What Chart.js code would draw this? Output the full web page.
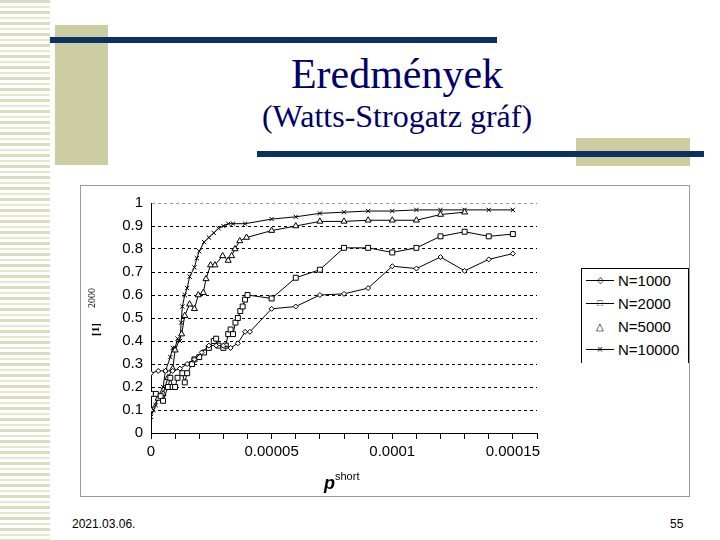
<!doctype html>
<html>
<head>
<meta charset="utf-8">
<script src="https://cdn.jsdelivr.net/npm/chart.js@4"></script>
<style>
  body { margin: 0; width: 720px; height: 540px; background: #fff; position: relative; overflow: hidden; font-family: "Liberation Sans", Arial, sans-serif; }
  .abs { position: absolute; }
  .stripes { left: 0; top: 0; width: 50px; height: 540px; background: repeating-linear-gradient(to bottom, #dcdcc0 0 3px, #fff 3px 6px, #e6e6d2 6px 8px, #fff 8px 11px); }
  .beige { background: #cdcda3; }
  .navy { background: #0b3160; }
  .title { font-family: "Liberation Serif", "Times New Roman", serif; color: #000066; text-align: center; width: 720px; left: 37px; }
  #frame { left: 80px; top: 185px; width: 610px; height: 312px; border: 1px solid #9a9a9a; box-sizing: border-box; }
  #legend { left: 581px; top: 268px; width: 106px; height: 94px; border: 1px solid #000; border-bottom: none; background: #fff; font-size: 15px; color: #000; }
  #legend div { height: 23px; line-height: 23px; position: relative; padding-left: 36px; }
  #legend span { position: absolute; left: 5px; width: 26px; text-align: center; font-size: 10px; }
  #legend i { position: absolute; left: 4px; top: 11px; width: 28px; height: 1px; background: #000; }
</style>
</head>
<body>
<div class="abs stripes"></div>
<div class="abs beige" style="left:55px;top:25px;width:53px;height:140px"></div>
<div class="abs navy" style="left:50px;top:37px;width:447px;height:6px"></div>
<div class="abs beige" style="left:576px;top:138px;width:114px;height:28px"></div>
<div class="abs navy" style="left:257px;top:151px;width:447px;height:6px"></div>
<div class="abs title" style="top:50px;font-size:42px;left:37px">Eredmények</div>
<div class="abs title" style="top:98px;font-size:32px">(Watts-Strogatz gráf)</div>
<div id="frame" class="abs">
  <canvas id="c" width="608" height="310" style="width:608px;height:310px"></canvas>
</div>
<div class="abs" style="left:86px;top:290px;font-family:'Liberation Serif',serif;font-size:10px;transform:rotate(-90deg);transform-origin:left top;top:308px">2000</div>
<div class="abs" style="left:89px;top:336px;font-family:'Liberation Serif',serif;font-size:11px;font-weight:bold;transform:rotate(-90deg);transform-origin:left top">[1]</div>
<div class="abs" style="left:324px;top:470px;font-size:18px;font-weight:bold;font-style:italic">p<sup style="font-size:11px;font-weight:normal;font-style:normal;vertical-align:9px">short</sup></div>
<div id="legend" class="abs">
  <div><i></i><span style="font-size:9px;top:0">◇</span>N=1000</div>
  <div><i></i><span style="font-size:9px;top:0;background:transparent">□</span>N=2000</div>
  <div><span>△</span>N=5000</div>
  <div><i></i><span>×</span>N=10000</div>
</div>
<div class="abs" style="left:72px;top:517px;font-size:12px">2021.03.06.</div>
<div class="abs" style="left:670px;top:517px;font-size:12px">55</div>
<script>
// x values in units of 1e-5
const xN1000 = [0,0.3,0.6,0.9,1.2,1.5,1.8,2.1,2.4,2.7,3.0,3.3,3.6,3.9,4.1,5,6,7,8,9,10,11,12,13,14,15];
const yN1000 = [0.26,0.27,0.27,0.27,0.28,0.30,0.32,0.35,0.38,0.38,0.38,0.37,0.39,0.44,0.44,0.54,0.55,0.60,0.605,0.63,0.725,0.715,0.765,0.705,0.755,0.78];
const xN2000 = [0,0.2,0.4,0.5,0.7,0.8,0.9,1.0,1.1,1.3,1.4,1.5,1.7,1.8,2.0,2.2,2.4,2.6,2.7,2.8,3.0,3.1,3.2,3.3,3.4,3.5,3.6,3.7,3.8,3.9,4.0,5,6,7,8,9,10,11,12,13,14,15];
const yN2000 = [0.17,0.17,0.16,0.14,0.20,0.24,0.20,0.20,0.24,0.26,0.22,0.26,0.30,0.32,0.33,0.35,0.37,0.40,0.41,0.38,0.37,0.38,0.43,0.45,0.43,0.48,0.50,0.53,0.55,0.58,0.60,0.585,0.675,0.71,0.805,0.805,0.785,0.805,0.855,0.875,0.855,0.865];
const xN5000 = [0,0.3,0.5,0.7,0.9,1.0,1.27,1.4,1.6,1.8,1.96,2.17,2.28,2.47,2.65,2.97,3.2,3.34,3.48,3.68,3.96,5,6,7,8,9,10,11,12,13];
const yN5000 = [0.10,0.15,0.17,0.24,0.28,0.36,0.43,0.51,0.56,0.54,0.60,0.61,0.67,0.73,0.73,0.77,0.75,0.77,0.80,0.835,0.85,0.88,0.90,0.92,0.92,0.925,0.925,0.925,0.95,0.96];
const xN10000 = [0,0.1,0.2,0.3,0.5,0.6,0.8,0.9,1.0,1.1,1.2,1.25,1.3,1.4,1.5,1.6,1.8,1.9,2.0,2.2,2.4,2.6,2.8,3.0,3.2,3.4,3.9,5,6,7,8,9,10,11,12,13,14,15];
const yN10000 = [0.07,0.10,0.12,0.16,0.20,0.27,0.33,0.37,0.37,0.41,0.40,0.48,0.55,0.60,0.63,0.68,0.72,0.76,0.79,0.83,0.85,0.87,0.89,0.90,0.91,0.91,0.91,0.93,0.94,0.955,0.96,0.965,0.965,0.97,0.97,0.97,0.97,0.97];
const yTicks = [0,0.1,0.2,0.3,0.4,0.5,0.6,0.7,0.8,0.9,1];
const xLabels = { 0: "0", 5: "0.00005", 10: "0.0001", 15: "0.00015" };

const pts = (xs, ys) => xs.map((x, i) => ({ x: x, y: ys[i] }));
const common = { borderColor: "#000", borderWidth: 1, pointBorderColor: "#000", pointBackgroundColor: "#fff", pointBorderWidth: 1, pointRadius: 3 };

new Chart(document.getElementById("c"), {
  type: "line",
  data: {
    datasets: [
      { ...common, label: "N=1000", data: pts(xN1000, yN1000), pointStyle: "rectRot", pointRadius: 2.5 },
      { ...common, label: "N=2000", data: pts(xN2000, yN2000), pointStyle: "rect", pointRadius: 3.5 },
      { ...common, label: "N=5000", data: pts(xN5000, yN5000), pointStyle: "triangle", pointRadius: 3.5 },
      { ...common, label: "N=10000", data: pts(xN10000, yN10000), pointStyle: "crossRot", pointRadius: 3 },
    ],
  },
  options: {
    responsive: false, animation: false,
    layout: { padding: { left: 0, top: 17, right: 152, bottom: 0 } },
    plugins: { legend: { display: false }, tooltip: { enabled: false } },
    scales: {
      x: {
        type: "linear", min: 0, max: 16,
        afterFit: (s) => { s.height = 63; },
        ticks: { stepSize: 1, autoSkip: false, maxRotation: 0, color: "#000", font: { size: 15, family: "Liberation Sans" }, padding: 4,
          callback: (v) => xLabels[v] ?? "" },
        grid: { drawOnChartArea: false, drawTicks: true, tickLength: 6, color: "#000" },
        border: { color: "#000", width: 1 },
      },
      y: {
        min: 0, max: 1,
        afterFit: (s) => { s.width = 70; },
        afterBuildTicks: (s) => { s.ticks = yTicks.map(v => ({ value: v })); },
        ticks: { color: "#000", font: { size: 15, family: "Liberation Sans" }, padding: 8, callback: (v) => String(+v.toFixed(1)) },
        grid: { color: (c) => c.tick.value === 1 ? "#999" : "#000", lineWidth: 1, tickLength: 0, drawTicks: false },
        border: { color: "#000", width: 1, dash: [3, 3] },
      },
    },
  },
});
</script>
</body>
</html>
